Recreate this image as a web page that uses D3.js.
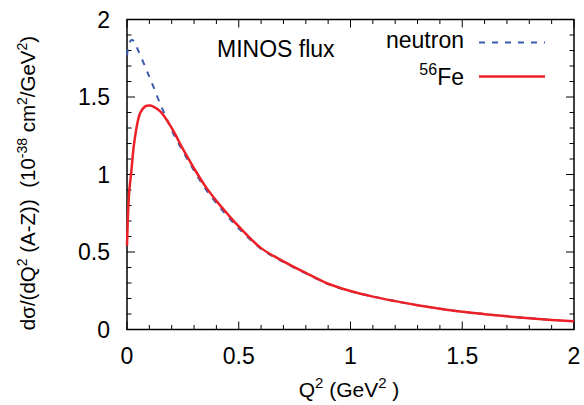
<!DOCTYPE html>
<html>
<head>
<meta charset="utf-8">
<script src="https://cdn.jsdelivr.net/npm/d3@7"></script>
<style>
  body { margin: 0; background: #fff; }
  svg { display: block; font-family: "Liberation Sans", Arial, Helvetica, sans-serif; }
  text { white-space: pre; }
</style>
</head>
<body>
<div class="chart"></div>
<script>
// Q^2 grid and cross sections
var q2Fe = [0, 0.005, 0.01, 0.02, 0.03, 0.04, 0.05, 0.06, 0.08, 0.1, 0.12, 0.15, 0.2, 0.25, 0.3, 0.35, 0.4, 0.45, 0.5, 0.6, 0.7, 0.8, 0.9, 1.0, 1.1, 1.2, 1.3, 1.4, 1.5, 1.6, 1.7, 1.8, 1.9, 2.0];
var fe = [0.54, 0.76, 0.89, 1.03, 1.18, 1.28, 1.355, 1.40, 1.438, 1.445, 1.437, 1.405, 1.30, 1.165, 1.04, 0.925, 0.83, 0.745, 0.665, 0.525, 0.44, 0.365, 0.295, 0.248, 0.212, 0.183, 0.157, 0.134, 0.114, 0.099, 0.085, 0.073, 0.062, 0.053];

var q2N = [0, 0.01, 0.02, 0.03, 0.05, 0.08, 0.1, 0.12, 0.15, 0.175, 0.2, 0.25, 0.3, 0.35, 0.4, 0.45, 0.5, 0.6, 0.7, 0.8, 0.9, 1.0, 1.1, 1.2, 1.3, 1.4, 1.5, 1.6, 1.7, 1.8, 1.9, 2.0];
var neutron = [1.77, 1.845, 1.868, 1.862, 1.80, 1.70, 1.63, 1.56, 1.45, 1.37, 1.285, 1.15, 1.025, 0.91, 0.815, 0.73, 0.652, 0.52, 0.435, 0.362, 0.293, 0.246, 0.213, 0.183, 0.157, 0.134, 0.114, 0.099, 0.085, 0.073, 0.062, 0.053];

var xTicks = [0, 0.5, 1, 1.5, 2];
var yTicks = [0, 0.5, 1, 1.5, 2];

var width = 584, height = 405;
var margin = {top: 19.5, right: 10, bottom: 75.5, left: 127};
var w = width - margin.left - margin.right;
var h = height - margin.top - margin.bottom;

var svg = d3.select(".chart").append("svg")
  .attr("width", width)
  .attr("height", height);

var g = svg.append("g").attr("transform", "translate(" + margin.left + "," + margin.top + ")");

var x = d3.scaleLinear().domain([0, 2]).range([0, w]);
var y = d3.scaleLinear().domain([0, 2]).range([h, 0]);

var minor = d3.range(0, 2.0001, 0.1);

// ticks on all four sides, pointing inwards
function tickLen(v) { return Math.abs(v * 2 - Math.round(v * 2)) < 1e-6 ? 8 : 4.5; }

var ticks = g.append("g").attr("stroke", "#000").attr("stroke-width", 1);
minor.forEach(function (v) {
  var L = tickLen(v);
  ticks.append("line").attr("x1", x(v)).attr("x2", x(v)).attr("y1", h).attr("y2", h - L);
  ticks.append("line").attr("x1", x(v)).attr("x2", x(v)).attr("y1", 0).attr("y2", L);
  ticks.append("line").attr("y1", y(v)).attr("y2", y(v)).attr("x1", 0).attr("x2", L);
  ticks.append("line").attr("y1", y(v)).attr("y2", y(v)).attr("x1", w).attr("x2", w - L);
});

g.append("rect")
  .attr("width", w).attr("height", h)
  .attr("fill", "none").attr("stroke", "#000").attr("stroke-width", 1.5);

g.selectAll(".xt").data(xTicks).enter().append("text")
  .attr("x", function (d) { return x(d); })
  .attr("y", h + 34)
  .attr("text-anchor", "middle")
  .attr("font-size", 23)
  .text(function (d) { return d; });

g.selectAll(".yt").data(yTicks).enter().append("text")
  .attr("x", -17)
  .attr("y", function (d) { return y(d) + 8; })
  .attr("text-anchor", "end")
  .attr("font-size", 23)
  .text(function (d) { return d; });

var line = d3.line()
  .x(function (d) { return x(d[0]); })
  .y(function (d) { return y(d[1]); })
  .curve(d3.curveCatmullRom.alpha(0.5));

g.append("path")
  .datum(d3.zip(q2N, neutron))
  .attr("d", line)
  .attr("fill", "none")
  .attr("stroke", "#3a5caf")
  .attr("stroke-width", 2)
  .attr("stroke-dasharray", "6,7");

g.append("path")
  .datum(d3.zip(q2Fe, fe))
  .attr("d", line)
  .attr("fill", "none")
  .attr("stroke", "#ec2027")
  .attr("stroke-width", 2.5);

// annotation + legend
svg.append("text").attr("x", 217).attr("y", 57).attr("font-size", 23).text("MINOS flux");

svg.append("text").attr("x", 464).attr("y", 48).attr("font-size", 23)
  .attr("text-anchor", "end").text("neutron");
svg.append("line").attr("x1", 479).attr("x2", 545).attr("y1", 42.5).attr("y2", 42.5)
  .attr("stroke", "#3a5caf").attr("stroke-width", 2).attr("stroke-dasharray", "6,7");

var fe56 = svg.append("text").attr("x", 464).attr("y", 85).attr("font-size", 23).attr("text-anchor", "end");
fe56.append("tspan").attr("font-size", 16).attr("dy", -10).text("56");
fe56.append("tspan").attr("dy", 10).text("Fe");
svg.append("line").attr("x1", 479).attr("x2", 545).attr("y1", 76.5).attr("y2", 76.5)
  .attr("stroke", "#ec2027").attr("stroke-width", 2.5);

// axis titles
var xl = svg.append("text").attr("x", 349).attr("y", 397).attr("font-size", 21).attr("text-anchor", "middle");
xl.append("tspan").text("Q");
xl.append("tspan").attr("font-size", 15).attr("dy", -9).text("2");
xl.append("tspan").attr("dy", 9).text(" (GeV");
xl.append("tspan").attr("font-size", 15).attr("dy", -9).text("2");
xl.append("tspan").attr("dy", 9).text(" )");

var yl = svg.append("text")
  .attr("transform", "translate(35,183) rotate(-90)")
  .attr("font-size", 20.5).attr("text-anchor", "middle");
yl.append("tspan").text("dσ/(dQ");
yl.append("tspan").attr("font-size", 14).attr("dy", -8).text("2");
yl.append("tspan").attr("dy", 8).text(" (A-Z))  (10");
yl.append("tspan").attr("font-size", 14).attr("dy", -8).text("-38");
yl.append("tspan").attr("dy", 8).text(" cm");
yl.append("tspan").attr("font-size", 14).attr("dy", -8).text("2");
yl.append("tspan").attr("dy", 8).text("/GeV");
yl.append("tspan").attr("font-size", 14).attr("dy", -8).text("2");
yl.append("tspan").attr("dy", 8).text(")");
</script>
</body>
</html>
